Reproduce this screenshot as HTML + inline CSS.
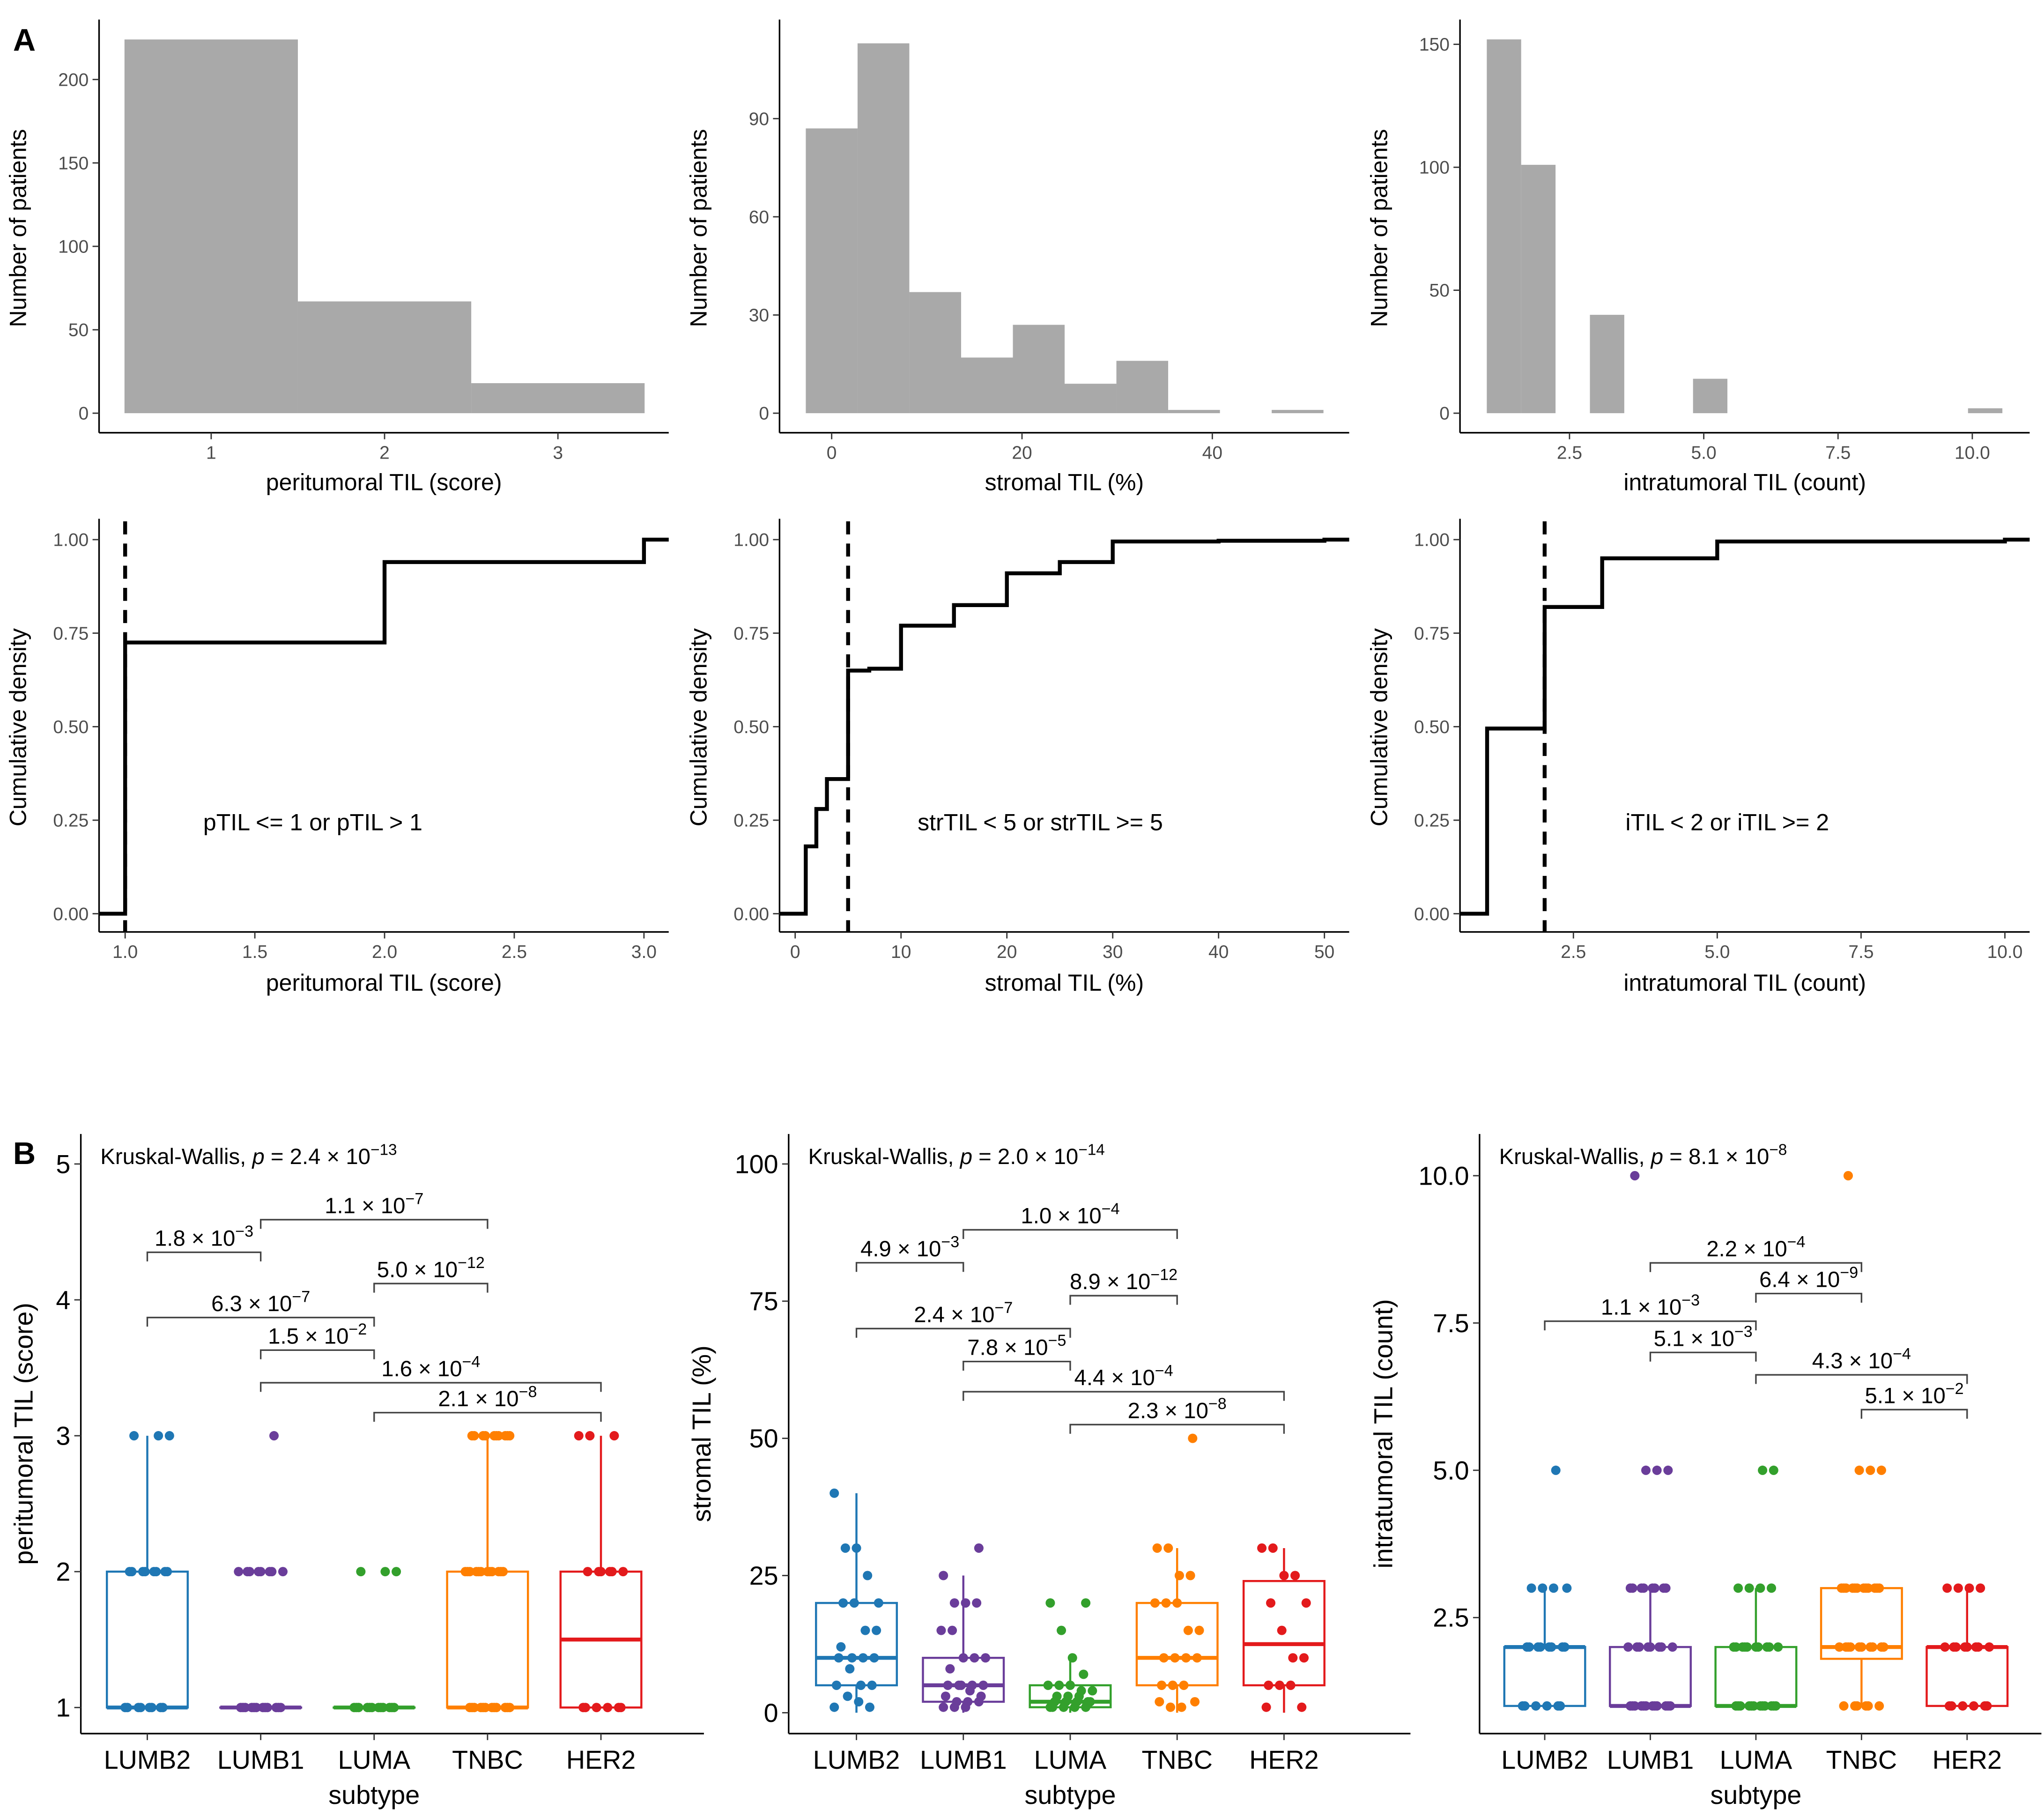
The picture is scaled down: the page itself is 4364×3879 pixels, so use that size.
<!DOCTYPE html>
<html><head><meta charset="utf-8"><style>
html,body{margin:0;padding:0;background:#fff}
svg{display:block}
text{font-family:"Liberation Sans",sans-serif}
</style></head><body>
<svg id="fig" xmlns="http://www.w3.org/2000/svg" width="4364" height="3879" viewBox="0 0 1568 1394" preserveAspectRatio="none">
<rect width="1568" height="1394" fill="#fff"/>
<text x="10" y="39" font-size="24" font-weight="bold">A</text>
<text x="10" y="893" font-size="24" font-weight="bold">B</text>
</svg>
<script>
// ---------- data ----------
const histPeriCenters = [1, 2, 3];
const histPeriCounts = [224, 67, 18];
const histStrCenters = [0, 5.44, 10.88, 16.32, 21.76, 27.2, 32.64, 38.08, 43.52, 48.96];
const histStrCounts = [87, 113, 37, 17, 27, 9, 16, 1, 0, 1];
const histIntraCenters = [1.28, 1.92, 3.2, 5.12, 10.24];
const histIntraCounts = [152, 101, 40, 14, 2];

const ecdfPeriX = [1, 2, 3];
const ecdfPeriY = [0.725, 0.94, 1.0];
const ecdfStrX = [1, 2, 3, 5, 7, 10, 15, 20, 25, 30, 40, 50];
const ecdfStrY = [0.18, 0.28, 0.36, 0.65, 0.655, 0.77, 0.825, 0.91, 0.94, 0.995, 0.997, 1.0];
const ecdfIntraX = [1, 2, 3, 5, 10];
const ecdfIntraY = [0.495, 0.82, 0.95, 0.995, 1.0];

const subtypes = ['LUMB2', 'LUMB1', 'LUMA', 'TNBC', 'HER2'];
const subtypeColors = ['#1f77b4', '#6a3d9a', '#33a02c', '#ff7f00', '#e31a1c'];

const periBox = [[1,1,1,2,3],[1,1,1,1,1],[1,1,1,1,1],[1,1,1,2,3],[1,1,1.5,2,3]];
const periPts = [
 [1,1,1,1,1,1,1,1,2,2,2,2,2,2,2,2,3,3,3],
 [1,1,1,1,1,1,1,1,1,1,1,1,2,2,2,2,2,2,2,2,3],
 [1,1,1,1,1,1,1,1,1,1,1,1,2,2,2],
 [1,1,1,1,1,1,1,1,1,1,1,1,2,2,2,2,2,2,2,2,2,2,2,2,3,3,3,3,3,3,3,3,3,3],
 [1,1,1,1,1,1,2,2,2,2,2,2,3,3,3]];
const strBox = [[0,5,10,20,40],[0,2,5,10,25],[0,1,2,5,10],[0,5,10,20,30],[0,5,12.5,24,30]];
const strPts = [
 [1,1,2,3,5,5,5,8,10,10,10,10,12,15,15,20,20,20,25,30,30,40],
 [1,1,1,2,2,2,3,3,4,5,5,5,5,5,8,10,10,10,15,15,20,20,20,25,30],
 [1,1,1,1,1,2,2,2,2,2,3,3,3,4,4,5,5,5,7,10,15,20,20],
 [1,1,2,2,5,5,5,10,10,10,10,15,15,20,20,20,25,25,30,30,50],
 [1,1,5,5,5,10,10,15,20,20,25,25,30,30]];
const intraBox = [[1,1,2,2,3],[1,1,1,2,3],[1,1,1,2,3],[1,1.8,2,3,3],[1,1,2,2,3]];
const intraPts = [
 [1,1,1,1,1,1,2,2,2,2,2,2,2,2,3,3,3,3,5],
 [1,1,1,1,1,1,1,1,1,1,1,1,2,2,2,2,2,2,2,2,3,3,3,3,3,3,3,3,5,5,5,10],
 [1,1,1,1,1,1,1,1,1,1,1,1,2,2,2,2,2,2,2,2,2,2,3,3,3,3,5,5],
 [1,1,1,1,1,1,2,2,2,2,2,2,2,2,2,2,3,3,3,3,3,3,3,3,3,3,3,3,5,5,5,10],
 [1,1,1,1,1,1,2,2,2,2,2,2,2,2,3,3,3,3]];

const periCmp = [[0,1,'1.8','3'],[1,3,'1.1','7'],[2,3,'5.0','12'],[0,2,'6.3','7'],[1,2,'1.5','2'],[1,4,'1.6','4'],[2,4,'2.1','8']];
const periCmpY = [4.35, 4.59, 4.12, 3.87, 3.63, 3.39, 3.17];
const strCmp = [[0,1,'4.9','3'],[1,3,'1.0','4'],[2,3,'8.9','12'],[0,2,'2.4','7'],[1,2,'7.8','5'],[1,4,'4.4','4'],[2,4,'2.3','8']];
const strCmpY = [82, 88, 76, 70, 64, 58.5, 52.5];
const intraCmp = [[1,3,'2.2','4'],[2,3,'6.4','9'],[0,2,'1.1','3'],[1,2,'5.1','3'],[2,4,'4.3','4'],[3,4,'5.1','2']];
const intraCmpY = [8.52, 8.0, 7.53, 7.0, 6.62, 6.03];

// ---------- helpers ----------
const svg = document.getElementById('fig');
const NS = 'http://www.w3.org/2000/svg';
function mk(tag, attrs, parent) {
  const e = document.createElementNS(NS, tag);
  for (const k in attrs) e.setAttribute(k, attrs[k]);
  (parent || svg).appendChild(e);
  return e;
}
function txt(x, y, s, size, anchor, fill, parent) {
  const t = mk('text', {x: x, y: y, 'font-size': size, 'text-anchor': anchor || 'middle', fill: fill || '#000'}, parent);
  t.textContent = s;
  return t;
}
function lin(d0, d1, r0, r1) { return v => r0 + (v - d0) * (r1 - r0) / (d1 - d0); }

function axesFrame(g, left, right, top, bottom) {
  mk('line', {x1: left, y1: top, x2: left, y2: bottom, stroke: '#000', 'stroke-width': 1.2}, g);
  mk('line', {x1: left, y1: bottom, x2: right, y2: bottom, stroke: '#000', 'stroke-width': 1.2}, g);
}
function yTicks(g, left, ys, vals, labels, size, col) {
  vals.forEach((v, i) => {
    const y = ys(v);
    const tk = mk('line', {x1: left - 5, y1: y, x2: left, y2: y, stroke: '#333', 'stroke-width': 1}, g);
    
    
    const t = txt(left - 8, y + size * 0.35, labels[i], size, 'end', col, g);
    
    
  });
}
function xTicks(g, bottom, xs, vals, labels, size, col, off) {
  vals.forEach((v, i) => {
    const x = xs(v);
    const tk = mk('line', {x1: x, y1: bottom, x2: x, y2: bottom + 5, stroke: '#333', 'stroke-width': 1}, g);
    
    
    const t = txt(x, bottom + off, labels[i], size, 'middle', col, g);
    
    
  });
}
function yTitle(g, x, y, s, size) {
  const t = txt(0, 0, s, size, 'middle', '#000', g);
  t.setAttribute('transform', `translate(${x},${y}) rotate(-90)`);
  
  
}
function xTitle(g, x, y, s, size) {
  const t = txt(x, y, s, size, 'middle', '#000', g);
  
  
}

// ---------- histograms ----------
function hist(name, left, right, xs, ys, centers, counts, bw, xv, xl, yv, yl, xt) {
  const g = mk('g', {});
  
  
  centers.forEach((c, i) => {
    if (counts[i] <= 0) return;
    const x0 = xs(c - bw / 2), x1 = xs(c + bw / 2);
    const r = mk('rect', {x: x0, y: ys(counts[i]), width: x1 - x0, height: ys(0) - ys(counts[i]), fill: '#a9a9a9'}, g);
    
    
  });
  axesFrame(g, left, right, 15, 332);
  yTicks(g, left, ys, yv, yl, 14, '#4d4d4d');
  xTicks(g, 332, xs, xv, xl, 14, '#4d4d4d', 20);
  xTitle(g, (left + right) / 2, 376, xt, 18);
  yTitle(g, left - 56, 175, 'Number of patients', 18);
}
hist('histogram-peritumoral', 76, 513, lin(1, 3, 162, 428), lin(0, 200, 317, 61), histPeriCenters, histPeriCounts, 1,
  [1, 2, 3], ['1', '2', '3'], [0, 50, 100, 150, 200], ['0', '50', '100', '150', '200'], 'peritumoral TIL (score)');
hist('histogram-stromal', 598, 1035, lin(0, 40, 638, 930), lin(0, 90, 317, 91), histStrCenters, histStrCounts, 5.44,
  [0, 20, 40], ['0', '20', '40'], [0, 30, 60, 90], ['0', '30', '60', '90'], 'stromal TIL (%)');
hist('histogram-intratumoral', 1120, 1557, lin(2.5, 10, 1204, 1513), lin(0, 150, 317, 34), histIntraCenters, histIntraCounts, 0.64,
  [2.5, 5, 7.5, 10], ['2.5', '5.0', '7.5', '10.0'], [0, 50, 100, 150], ['0', '50', '100', '150'], 'intratumoral TIL (count)');

// ---------- ECDFs ----------
function ecdf(name, left, right, xs, xsx, ysx, cut, xv, xl, label, lx, xt) {
  const ys = lin(0, 1, 701, 414);
  const g = mk('g', {});
  
  
  let d = `M${left},${ys(0)} L${xs(xsx[0])},${ys(0)}`;
  xsx.forEach((x, i) => {
    d += ` L${xs(x)},${ys(ysx[i])}`;
    const nx = i < xsx.length - 1 ? xs(xsx[i + 1]) : right;
    d += ` L${nx},${ys(ysx[i])}`;
  });
  const p = mk('path', {d: d, fill: 'none', stroke: '#000', 'stroke-width': 3}, g);
  
  
  const c = mk('line', {x1: xs(cut), y1: 400, x2: xs(cut), y2: 715, stroke: '#000', 'stroke-width': 3, 'stroke-dasharray': '10,7'}, g);
  
  
  axesFrame(g, left, right, 398, 715);
  yTicks(g, left, ys, [0, 0.25, 0.5, 0.75, 1], ['0.00', '0.25', '0.50', '0.75', '1.00'], 14, '#4d4d4d');
  xTicks(g, 715, xs, xv, xl, 14, '#4d4d4d', 20);
  xTitle(g, (left + right) / 2, 760, xt, 18);
  yTitle(g, left - 56, 558, 'Cumulative density', 18);
  const t = txt(lx, 637, label, 18, 'middle', '#000', g);
  
  
}
ecdf('ecdf-peritumoral', 76, 513, lin(1, 3, 96, 494), ecdfPeriX, ecdfPeriY, 1, [1, 1.5, 2, 2.5, 3], ['1.0', '1.5', '2.0', '2.5', '3.0'], 'pTIL <= 1 or pTIL > 1', 240, 'peritumoral TIL (score)');
ecdf('ecdf-stromal', 598, 1035, lin(0, 50, 610, 1016), ecdfStrX, ecdfStrY, 5, [0, 10, 20, 30, 40, 50], ['0', '10', '20', '30', '40', '50'], 'strTIL < 5 or strTIL >= 5', 798, 'stromal TIL (%)');
ecdf('ecdf-intratumoral', 1120, 1557, lin(2.5, 10, 1207, 1538), ecdfIntraX, ecdfIntraY, 2, [2.5, 5, 7.5, 10], ['2.5', '5.0', '7.5', '10.0'], 'iTIL < 2 or iTIL >= 2', 1325, 'intratumoral TIL (count)');

// ---------- boxplots ----------
function pText(g, x, y, mant, exp, size) {
  const t = mk('text', {x: x, y: y, 'font-size': size, 'text-anchor': 'middle'}, g);
  const a = mk('tspan', {}, t); a.textContent = mant + ' \u00d7 10';
  const b = mk('tspan', {dy: -7, 'font-size': size * 0.72}, t); b.textContent = '\u2212' + exp;
  return t;
}
function boxPanel(name, left, right, ys, xs, box, pts, cmp, cmpY, yv, yl, ytitle, ytx, kw, kwExp) {
  const g = mk('g', {});
  
  
  const bw = 31;
  subtypes.forEach((s, i) => {
    const cx = xs(i), col = subtypeColors[i], b = box[i];
    const w = mk('line', {x1: cx, y1: ys(b[4]), x2: cx, y2: ys(b[3]), stroke: col, 'stroke-width': 1.6}, g);
    
    
    const w2 = mk('line', {x1: cx, y1: ys(b[1]), x2: cx, y2: ys(b[0]), stroke: col, 'stroke-width': 1.6}, g);
    
    
    const r = mk('rect', {x: cx - bw, y: ys(b[3]), width: bw * 2, height: Math.max(0.1, ys(b[1]) - ys(b[3])), fill: '#fff', stroke: col, 'stroke-width': 1.6}, g);
    
    
    const m = mk('line', {x1: cx - bw, y1: ys(b[2]), x2: cx + bw, y2: ys(b[2]), stroke: col, 'stroke-width': 3}, g);
    
    
    pts[i].forEach((v, j) => {
      const jit = (((j * 37 + i * 11) % 21) - 10) * 1.7;
      const c = mk('circle', {cx: cx + jit, cy: ys(v), r: 3.6, fill: col}, g);
      
      
    });
  });
  cmp.forEach((c, k) => {
    const y = ys(cmpY[k]), x1 = xs(c[0]), x2 = xs(c[1]);
    const br = mk('path', {d: `M${x1},${y + 7} L${x1},${y} L${x2},${y} L${x2},${y + 7}`, fill: 'none', stroke: '#444', 'stroke-width': 1.2}, g);
    
    
    const t = pText(g, (x1 + x2) / 2, y - 5, c[2], c[3], 17);
    
    
  });
  axesFrame(g, left, right, 870, 1330);
  yTicks(g, left, ys, yv, yl, 20, '#000');
  xTicks(g, 1330, xs, [0, 1, 2, 3, 4], subtypes, 20, '#000', 27);
  xTitle(g, xs(2), 1384, 'subtype', 20);
  yTitle(g, ytx, 1100, ytitle, 20);
  const k = mk('text', {x: left + 15, y: 893, 'font-size': 17}, g);
  
  
  const a = mk('tspan', {}, k); a.textContent = 'Kruskal-Wallis, ';
  const p = mk('tspan', {'font-style': 'italic'}, k); p.textContent = 'p';
  const b = mk('tspan', {}, k); b.textContent = ' = ' + kw + ' \u00d7 10';
  const e = mk('tspan', {dy: -7, 'font-size': 12}, k); e.textContent = '\u2212' + kwExp;
}
boxPanel('boxplot-peritumoral', 62, 540, lin(1, 5, 1310, 893), lin(0, 4, 113, 461), periBox, periPts, periCmp, periCmpY,
  [1, 2, 3, 4, 5], ['1', '2', '3', '4', '5'], 'peritumoral TIL (score)', 25, '2.4', '13');
boxPanel('boxplot-stromal', 605, 1082, lin(0, 100, 1314, 893), lin(0, 4, 657, 985), strBox, strPts, strCmp, strCmpY,
  [0, 25, 50, 75, 100], ['0', '25', '50', '75', '100'], 'stromal TIL (%)', 545, '2.0', '14');
boxPanel('boxplot-intratumoral', 1135, 1566, lin(2.5, 10, 1241, 902), lin(0, 4, 1185, 1509), intraBox, intraPts, intraCmp, intraCmpY,
  [2.5, 5, 7.5, 10], ['2.5', '5.0', '7.5', '10.0'], 'intratumoral TIL (count)', 1068, '8.1', '8');
</script>
</body></html>
